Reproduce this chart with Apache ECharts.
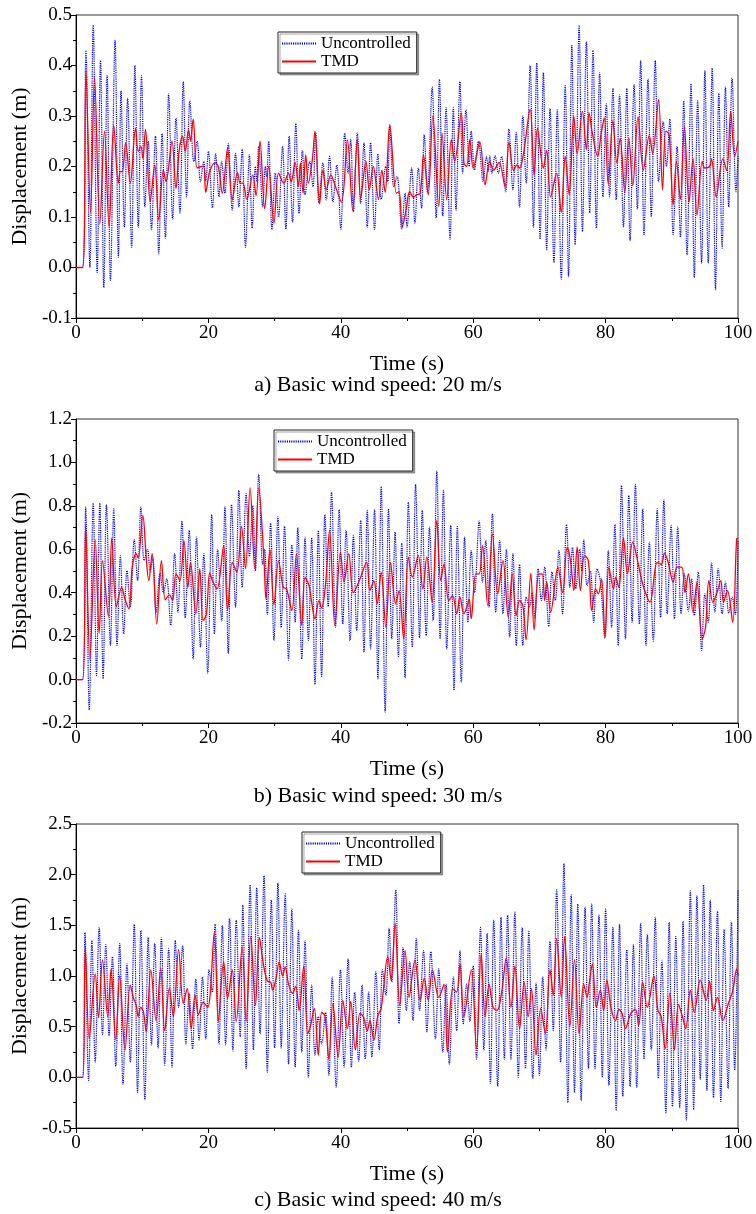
<!DOCTYPE html>
<html><head><meta charset="utf-8">
<script src="https://cdn.jsdelivr.net/npm/echarts@6/dist/echarts.min.js"></script>
<style>html,body{margin:0;padding:0;background:#fff}#c{width:756px;height:1214px}</style>
</head><body><div id="c"></div>
<script>
// ---------- Panel a (20 m/s) ----------
const aUncT=[0,1.0,1.5,2.1,2.6,3.2,3.7,4.2,4.7,5.2,5.9,6.4,6.8,7.3,7.8,8.4,8.9,9.4,9.9,10.4,10.9,11.4,12.0,12.5,13.0,13.5,14.0,14.6,15.1,15.7,16.2,16.7,17.2,17.8,18.3,18.8,19.3,19.6,20.0,20.6,21.1,21.6,22.0,22.5,23.0,23.6,24.1,24.6,25.1,25.6,26.2,26.6,27.1,27.3,27.6,28.2,28.6,28.8,29.1,29.6,30.1,30.6,31.2,31.7,32.2,32.7,33.2,33.7,34.2,34.6,35.3,35.8,36.2,36.7,37.3,37.8,38.3,38.8,39.4,40.0,40.6,41.1,41.5,41.9,42.5,43.0,43.5,44.0,44.5,45.1,45.6,46.1,46.8,47.1,47.4,48.0,48.5,49.2,49.7,50.0,50.7,51.2,51.7,52.2,52.6,53.1,53.8,54.4,54.9,55.4,55.9,56.5,57.0,57.4,58.0,58.4,58.9,59.4,59.7,60.2,60.8,61.5,62.0,62.3,62.5,62.8,63.3,63.8,64.3,64.9,65.4,66.0,66.5,67.0,67.5,68.0,68.6,69.1,69.6,70.1,70.6,71.1,71.6,72.2,72.7,73.3,73.9,74.4,74.9,75.4,76.0,76.5,77.1,77.6,78.1,78.6,79.1,79.6,80.1,80.6,81.1,81.6,82.1,82.7,83.2,83.7,84.3,84.8,85.3,85.8,86.4,86.9,87.5,88.0,88.7,89.2,89.7,90.2,90.8,91.3,91.8,92.3,92.9,93.4,93.9,94.5,95.0,95.5,96.1,96.6,97.1,97.6,98.1,98.6,99.1,99.7,100];
const aUncV=[0,0,0.43,0.00,0.48,-0.01,0.41,-0.04,0.38,-0.025,0.45,0.02,0.35,0.08,0.335,0.04,0.40,0.08,0.38,0.12,0.25,0.075,0.26,0.027,0.265,0.058,0.344,0.096,0.296,0.108,0.368,0.14,0.33,0.21,0.25,0.17,0.21,0.17,0.23,0.118,0.225,0.14,0.21,0.147,0.245,0.114,0.226,0.12,0.234,0.04,0.223,0.078,0.2,0.17,0.24,0.12,0.2,0.18,0.25,0.075,0.187,0.10,0.24,0.076,0.26,0.09,0.285,0.107,0.232,0.144,0.21,0.16,0.266,0.127,0.207,0.134,0.22,0.13,0.203,0.076,0.266,0.187,0.254,0.11,0.266,0.127,0.247,0.08,0.247,0.075,0.225,0.135,0.2,0.17,0.28,0.16,0.18,0.076,0.147,0.08,0.197,0.088,0.197,0.117,0.263,0.148,0.357,0.098,0.373,0.102,0.317,0.056,0.317,0.113,0.368,0.187,0.312,0.2,0.27,0.193,0.25,0.17,0.22,0.19,0.221,0.187,0.221,0.187,0.22,0.15,0.274,0.154,0.267,0.12,0.3,0.167,0.40,0.08,0.405,0.056,0.386,0.035,0.315,0.009,0.312,-0.023,0.36,-0.018,0.44,0.045,0.48,0.071,0.447,0.108,0.43,0.078,0.386,0.14,0.324,0.14,0.355,0.134,0.342,0.08,0.355,0.053,0.362,0.116,0.41,0.065,0.373,0.10,0.41,0.17,0.289,0.2,0.294,0.065,0.24,0.06,0.33,0.025,0.364,-0.02,0.33,0.009,0.39,0.009,0.395,-0.044,0.345,0.038,0.357,0.12,0.375,0.15,0.22];
const aTmdT=[0,1.0,1.5,2.2,2.8,3.6,4.3,5.0,5.7,6.4,6.7,7.0,7.5,8.2,9.0,9.4,9.8,10.1,10.5,11.2,11.9,12.5,13.2,13.6,14.5,15.1,15.6,16.1,16.5,17.0,17.3,17.7,18.3,19.0,19.3,19.6,20.2,21.0,21.5,22.1,22.9,23.6,24.4,24.8,25.2,25.8,26.7,27.2,27.8,28.5,29.1,29.9,30.6,31.4,32.1,32.5,33.1,33.6,33.9,34.3,34.7,35.1,35.7,36.1,36.8,37.3,37.8,38.5,39.1,40.1,41.0,41.8,42.5,43.0,43.8,44.3,44.9,45.7,46.2,46.7,47.4,48.4,48.8,49.3,49.9,50.4,51.0,51.4,52.0,52.5,53.2,53.9,54.8,55.3,56.0,56.7,57.2,58.2,58.6,59.0,59.5,60.0,61.0,61.8,62.5,63.1,63.9,64.8,65.4,66.1,66.6,67.0,67.6,68.6,69.2,69.7,70.6,71.1,71.7,72.6,73.3,73.9,74.5,75.2,75.7,76.5,77.1,77.5,78.0,78.8,79.3,79.8,80.4,81.1,81.7,82.2,82.9,83.5,84.1,84.9,85.7,86.6,87.1,88.0,88.6,89.1,89.6,90.2,90.7,91.3,91.9,92.6,93.2,93.8,94.6,95.0,95.7,96.0,96.7,97.7,98.3,98.9,99.5,100];
const aTmdV=[0,0,0.39,0.108,0.377,0.086,0.27,0.08,0.282,0.167,0.19,0.19,0.247,0.167,0.276,0.23,0.24,0.216,0.274,0.13,0.203,0.094,0.193,0.17,0.25,0.157,0.233,0.26,0.23,0.273,0.25,0.294,0.197,0.2,0.2,0.149,0.19,0.207,0.2,0.147,0.236,0.134,0.188,0.167,0.167,0.135,0.183,0.142,0.25,0.116,0.2,0.088,0.187,0.167,0.187,0.17,0.208,0.16,0.207,0.147,0.223,0.167,0.213,0.27,0.126,0.193,0.154,0.183,0.164,0.129,0.253,0.113,0.253,0.137,0.21,0.154,0.2,0.135,0.193,0.149,0.283,0.147,0.15,0.081,0.117,0.15,0.139,0.144,0.147,0.223,0.144,0.3,0.121,0.266,0.134,0.253,0.21,0.306,0.207,0.2,0.253,0.197,0.248,0.164,0.21,0.193,0.208,0.16,0.248,0.192,0.203,0.197,0.226,0.313,0.183,0.276,0.197,0.232,0.14,0.187,0.109,0.22,0.144,0.3,0.226,0.309,0.233,0.306,0.266,0.22,0.263,0.296,0.164,0.291,0.207,0.256,0.149,0.256,0.162,0.298,0.193,0.261,0.226,0.333,0.154,0.27,0.263,0.124,0.21,0.135,0.279,0.129,0.216,0.104,0.21,0.197,0.2,0.215,0.14,0.215,0.192,0.309,0.22,0.25];

// ---------- Panel b (30 m/s) ----------
const bUncT=[0,1.0,1.46,2.0,2.6,3.1,3.6,4.1,4.6,5.2,5.7,6.2,6.7,7.2,7.7,8.2,8.8,9.3,9.8,10.3,10.8,11.2,11.6,12.1,12.7,13.2,13.7,14.3,14.9,15.4,16.0,16.5,17.1,17.7,18.2,18.8,19.3,19.9,20.5,20.9,21.4,22.0,22.5,23.0,23.5,24.1,24.6,25.1,25.7,26.2,26.7,27.1,27.6,28.2,28.5,28.9,29.4,29.9,30.5,31.0,31.5,32.1,32.6,33.1,33.5,34.1,34.6,35.1,35.6,36.1,36.6,37.1,37.6,38.1,38.6,39.2,39.75,40.3,40.8,41.4,41.9,42.4,43.0,43.5,44.0,44.5,45.1,45.6,46.1,46.7,47.2,47.7,48.2,48.7,49.2,49.7,50.2,50.8,51.3,51.9,52.3,52.9,53.4,53.95,54.5,55.0,55.5,56.0,56.6,57.1,57.6,58.2,58.7,59.2,59.7,60.2,60.9,61.4,61.9,62.4,62.9,63.4,64.0,64.5,65.0,65.5,66.0,66.5,67.0,67.5,68.0,68.5,68.9,69.3,69.8,70.3,70.8,71.4,71.9,72.4,72.95,73.5,74.1,74.6,75.0,75.5,76.1,76.4,76.7,77.2,77.7,78.2,78.7,79.2,79.9,80.4,80.9,81.4,81.9,82.4,83.0,83.5,84.0,84.5,85.1,85.6,86.1,86.6,87.2,87.8,88.3,88.8,89.3,89.9,90.4,90.9,91.4,91.9,92.5,93.0,93.4,94.0,94.5,95.0,95.5,96.0,96.5,97.0,97.6,98.1,98.6,99.1,99.6,100];
const bUncV=[0,0,0.794,-0.14,0.813,0.018,0.813,0.003,0.806,0.157,0.786,0.157,0.571,0.21,0.502,0.333,0.644,0.456,0.794,0.548,0.6,0.5,0.56,0.31,0.49,0.4,0.464,0.25,0.58,0.31,0.73,0.284,0.687,0.095,0.656,0.149,0.58,0.03,0.76,0.21,0.6,0.27,0.797,0.12,0.806,0.333,0.871,0.425,0.856,0.567,0.8,0.5,0.945,0.53,0.6,0.3,0.72,0.18,0.75,0.24,0.705,0.09,0.62,0.264,0.7,0.095,0.656,0.18,0.653,-0.023,0.687,0.014,0.76,0.336,0.863,0.24,0.782,0.256,0.687,0.18,0.664,0.226,0.733,0.126,0.779,0.141,0.782,0.003,0.889,-0.15,0.786,0.187,0.679,0.106,0.628,0.008,0.817,0.149,0.9,0.192,0.779,0.203,0.702,0.272,0.96,0.187,0.871,0.141,0.71,-0.05,0.705,-0.012,0.656,0.264,0.594,0.4,0.73,0.449,0.64,0.333,0.763,0.31,0.64,0.303,0.6,0.195,0.58,0.157,0.53,0.157,0.38,0.336,0.4,0.284,0.51,0.364,0.518,0.244,0.495,0.364,0.594,0.303,0.714,0.425,0.61,0.418,0.6,0.5,0.644,0.433,0.5,0.264,0.51,0.456,0.192,0.594,0.24,0.714,0.157,0.894,0.187,0.848,0.264,0.899,0.256,0.786,0.157,0.633,0.177,0.786,0.287,0.828,0.303,0.71,0.28,0.702,0.303,0.487,0.315,0.464,0.295,0.495,0.134,0.395,0.264,0.536,0.31,0.51,0.303,0.449,0.306,0.38,0.3,0.64];
const bTmdT=[0,1.0,1.46,2.1,2.9,3.5,4.0,4.9,5.4,6.1,6.9,7.4,8.0,8.5,9.1,9.4,10.1,10.6,11.0,11.5,12.2,12.9,13.5,14.1,14.6,15.1,15.7,16.3,16.9,17.3,18.1,18.7,19.2,19.7,20.2,20.7,21.3,22.3,22.9,23.6,24.3,25.0,25.6,26.3,27.0,27.6,28.4,28.7,29.3,29.9,30.6,31.3,31.8,32.6,33.3,34.1,34.6,35.2,35.6,36.1,36.7,37.1,37.7,38.3,39.1,39.95,40.5,41.2,41.9,42.8,43.9,44.4,45.0,45.5,46.1,46.8,47.5,48.3,48.8,49.5,50.2,50.8,51.7,52.4,53.0,53.8,54.5,55.1,55.6,56.3,56.9,57.5,58.0,58.6,59.0,59.4,59.7,60.4,60.9,61.4,62.2,62.9,63.7,64.5,65.3,65.9,66.5,67.0,67.5,68.0,68.7,69.2,69.9,70.4,70.8,71.1,71.7,72.8,73.5,74.2,74.7,75.2,75.7,76.2,76.8,77.4,77.9,78.5,78.9,79.4,79.9,80.5,81.2,81.5,82.0,82.7,83.3,84.1,84.6,85.3,85.9,86.7,87.8,88.4,88.9,89.5,90.2,90.8,91.5,92.0,92.5,93.2,93.8,94.6,95.1,95.6,96.2,96.8,97.4,97.8,98.4,99.2,99.8,100];
const bTmdV=[0,0,0.714,0.09,0.644,0.214,0.548,0.29,0.653,0.336,0.425,0.37,0.326,0.52,0.58,0.56,0.756,0.564,0.456,0.58,0.256,0.548,0.367,0.39,0.364,0.487,0.456,0.64,0.425,0.54,0.303,0.51,0.272,0.3,0.49,0.449,0.418,0.617,0.32,0.54,0.495,0.705,0.51,0.883,0.51,0.883,0.548,0.37,0.6,0.345,0.548,0.425,0.418,0.318,0.58,0.25,0.47,0.433,0.356,0.28,0.364,0.33,0.44,0.687,0.25,0.587,0.449,0.58,0.4,0.456,0.54,0.41,0.456,0.349,0.495,0.241,0.54,0.349,0.41,0.187,0.564,0.472,0.571,0.418,0.564,0.356,0.733,0.456,0.533,0.364,0.387,0.303,0.38,0.303,0.33,0.37,0.28,0.487,0.487,0.617,0.341,0.671,0.395,0.548,0.287,0.487,0.295,0.364,0.341,0.183,0.49,0.229,0.487,0.487,0.364,0.45,0.31,0.518,0.4,0.61,0.548,0.41,0.61,0.41,0.571,0.548,0.318,0.418,0.395,0.464,0.195,0.518,0.418,0.472,0.425,0.653,0.487,0.633,0.58,0.479,0.41,0.356,0.54,0.53,0.582,0.533,0.449,0.518,0.518,0.4,0.487,0.31,0.449,0.187,0.241,0.456,0.356,0.398,0.456,0.356,0.41,0.264,0.648,0.65];

// ---------- Panel c (40 m/s) ----------
const cUncT=[0,1.0,1.36,1.9,2.4,2.9,3.5,4.0,4.5,5.0,5.5,6.0,6.6,7.1,7.7,8.2,8.8,9.3,9.8,10.4,10.9,11.4,11.9,12.4,12.9,13.4,14.0,14.5,15.0,15.5,16.1,16.6,17.1,17.6,18.1,18.6,19.1,19.6,20.1,20.6,21.0,21.6,22.1,22.6,23.2,23.7,24.2,24.8,25.2,25.7,26.3,26.8,27.3,27.8,28.4,28.9,29.5,30.0,30.5,31.0,31.6,32.1,32.6,33.1,33.6,34.1,34.6,35.1,35.6,36.1,36.6,37.1,37.7,38.2,38.7,39.3,39.95,40.5,41.1,41.6,42.1,42.7,43.2,43.7,44.2,44.7,45.3,45.8,46.3,46.8,47.3,47.7,48.3,48.8,49.4,49.9,50.4,50.9,51.4,51.9,52.5,53.0,53.6,54.3,54.8,55.4,55.9,56.4,57.0,57.5,58.0,58.5,59.0,59.5,60.0,60.5,61.1,61.6,62.1,62.6,63.1,63.7,64.2,64.7,65.2,65.7,66.3,66.8,67.4,67.9,68.4,69.0,69.5,70.0,70.5,71.0,71.6,72.1,72.6,73.2,73.7,74.3,74.8,75.3,75.8,76.3,76.9,77.4,77.9,78.4,79.0,79.5,80.0,80.5,81.1,81.6,82.1,82.6,83.2,83.7,84.2,84.7,85.3,85.8,86.3,86.9,87.5,87.96,88.5,89.1,89.6,90.1,90.6,91.2,91.7,92.2,92.8,93.3,93.8,94.3,94.8,95.3,95.8,96.3,96.9,97.4,97.9,98.5,99.0,99.5,100];
const cUncV=[0,0,1.43,-0.03,1.35,0.15,1.48,0.42,1.31,0.41,1.19,0.11,1.32,-0.07,1.12,0.15,1.51,-0.15,1.45,-0.22,1.38,0.32,1.32,0.29,1.38,0.12,1.27,0.10,1.35,0.69,1.30,0.33,0.83,0.28,0.97,0.37,0.99,0.38,1.06,0.84,1.51,0.33,1.50,0.32,1.57,0.26,1.55,0.40,1.70,0.085,1.90,0.27,1.87,0.43,1.99,0.05,1.75,0.29,1.92,0.29,1.81,0.13,1.66,0.10,1.45,0.25,1.35,0.0,0.91,0.22,0.6,0.33,0.64,0.02,0.99,-0.10,1.06,0.10,1.17,0.10,0.84,0.16,0.91,0.18,0.84,0.20,1.04,0.27,1.06,0.81,1.47,0.94,1.85,0.53,1.28,0.66,1.14,0.56,1.37,0.66,1.25,0.45,1.24,0.38,1.07,0.25,0.92,0.13,0.99,0.46,1.25,0.53,0.92,0.55,1.1,0.18,1.48,0.27,1.42,-0.06,1.55,-0.09,1.58,0.18,1.60,0.18,1.63,0.0,1.48,0.085,1.44,-0.01,0.93,0.02,0.99,0.27,1.34,0.46,1.85,0.15,2.11,-0.25,1.80,-0.15,1.71,-0.23,1.68,0.085,1.71,0.085,1.60,0.0,1.66,-0.08,1.48,-0.33,1.51,-0.19,1.26,-0.09,1.31,-0.10,1.52,0.18,1.41,0.27,1.58,-0.01,1.15,-0.35,1.53,-0.29,1.39,-0.30,1.54,-0.42,1.84,-0.32,1.79,-0.02,1.90,-0.13,1.75,-0.20,1.64,-0.24,1.46,-0.11,1.53,0.07,1.85];
const cTmdT=[0,1.0,1.4,2.0,2.9,3.4,4.0,4.8,5.3,6.0,6.6,7.4,8.2,8.7,9.1,9.4,9.8,10.2,10.6,11.3,12.1,12.8,13.4,14.1,14.7,15.5,16.2,16.8,17.4,18.0,18.5,19.2,19.9,20.9,21.5,22.3,22.9,23.6,24.2,25.1,25.7,26.4,27.1,27.7,28.3,28.9,29.4,29.7,30.2,30.7,31.2,31.6,32.1,32.7,33.2,33.7,34.4,35.0,35.4,36.0,36.6,37.1,37.6,38.2,38.8,39.6,40.3,41.0,41.5,42.2,42.9,43.4,44.0,44.4,45.0,45.6,46.1,47.1,47.6,48.2,48.9,49.7,50.3,51.2,52.0,52.6,53.2,53.85,54.8,55.6,56.1,56.9,57.5,58.0,58.6,59.7,60.5,61.2,61.8,62.4,63.0,63.6,64.3,65.0,65.7,66.3,67.0,67.7,68.3,68.8,69.5,70.2,70.9,71.6,72.1,72.6,73.3,73.8,74.6,75.3,76.0,76.7,77.2,77.5,78.0,78.6,79.2,79.7,80.2,80.8,81.5,82.0,82.5,83.0,83.8,84.5,85.0,85.6,86.3,87.3,87.9,88.4,89.0,89.7,90.4,91.0,91.6,92.1,92.8,93.4,94.3,95.2,95.7,96.3,96.9,97.7,98.6,99.2,99.8,100];
const cTmdV=[0,0,1.29,0.38,1.02,0.59,1.16,0.6,1.07,0.37,1.0,0.27,0.91,0.78,0.71,0.6,0.69,0.64,0.45,1.06,0.56,1.08,0.46,0.88,0.6,1.26,0.73,0.875,0.48,0.81,0.62,0.74,0.69,1.43,0.55,1.14,0.78,1.06,0.55,1.29,0.55,1.39,0.71,1.38,1.12,0.95,0.94,0.86,0.97,1.14,1.0,1.09,0.92,0.83,0.9,0.66,1.1,0.43,0.5,0.68,0.22,0.64,0.61,0.18,0.73,0.2,0.76,0.48,0.75,0.27,0.63,0.6,0.46,0.56,0.37,0.61,0.68,1.19,0.96,1.52,0.71,1.25,0.79,1.16,0.76,0.98,0.76,1.06,0.79,0.92,0.25,0.875,0.84,1.12,0.6,1.06,0.28,1.22,0.6,0.92,0.69,0.66,0.84,1.18,0.69,1.1,0.48,0.94,0.6,0.875,0.22,0.68,0.43,1.06,0.81,1.37,0.79,1.39,0.5,1.16,0.43,0.92,0.79,0.91,1.12,0.69,0.86,0.66,0.96,0.69,0.56,0.67,0.63,0.48,0.63,0.67,0.51,0.94,0.69,1.0,0.66,0.6,0.28,0.83,0.27,0.72,0.6,0.48,0.86,0.64,0.96,0.76,0.95,0.66,0.79,0.56,0.74,0.85,1.07,1.0];

// axis ticks
const xTicks=[0,20,40,60,80,100];
const aYTicks=[-0.1,0.0,0.1,0.2,0.3,0.4,0.5];
const bYTicks=[-0.2,0.0,0.2,0.4,0.6,0.8,1.0,1.2];
const cYTicks=[-0.5,0.0,0.5,1.0,1.5,2.0,2.5];
const seriesNames=['Uncontrolled','TMD'];
const captions=['a) Basic wind speed: 20 m/s','b) Basic wind speed: 30 m/s','c) Basic wind speed: 40 m/s'];

const FONT='"Liberation Serif","Times New Roman",serif';
const zip=(t,v)=>t.map((x,i)=>[x,v[i]]);
const panels=[
  {unc:zip(aUncT,aUncV),tmd:zip(aTmdT,aTmdV),ticks:aYTicks,top:15,h:303,leg:[278,32],cap:386},
  {unc:zip(bUncT,bUncV),tmd:zip(bTmdT,bTmdV),ticks:bYTicks,top:419,h:304,leg:[274,430],cap:797},
  {unc:zip(cUncT,cUncV),tmd:zip(cTmdT,cTmdV),ticks:cYTicks,top:824,h:304,leg:[302,832],cap:1201}
];
const grid=[],xAxis=[],yAxis=[],series=[],legend=[],graphic=[];
panels.forEach((p,i)=>{
  grid.push({left:76,width:662,top:p.top,height:p.h,show:true,borderColor:'#333',borderWidth:1,backgroundColor:'transparent'});
  xAxis.push({gridIndex:i,type:'value',min:xTicks[0],max:xTicks[xTicks.length-1],interval:xTicks[1]-xTicks[0],
    name:'Time (s)',nameLocation:'middle',nameGap:35,nameTextStyle:{fontFamily:FONT,fontSize:22,color:'#000'},
    axisLine:{onZero:false,lineStyle:{color:'#000',width:1}},axisTick:{length:5,lineStyle:{color:'#000'}},
    minorTick:{show:true,splitNumber:2,length:3,lineStyle:{color:'#000'}},splitLine:{show:false},
    axisLabel:{fontFamily:FONT,fontSize:19,color:'#000',margin:6}});
  const t=p.ticks;
  yAxis.push({gridIndex:i,type:'value',min:t[0],max:t[t.length-1],interval:+(t[1]-t[0]).toFixed(2),
    name:'Displacement (m)',nameLocation:'middle',nameGap:44,nameTextStyle:{fontFamily:FONT,fontSize:22,color:'#000'},
    axisLine:{onZero:false,lineStyle:{color:'#000',width:1}},axisTick:{length:5,lineStyle:{color:'#000'}},
    minorTick:{show:true,splitNumber:2,length:3,lineStyle:{color:'#000'}},splitLine:{show:false},
    axisLabel:{fontFamily:FONT,fontSize:19,color:'#000',margin:4,formatter:v=>v.toFixed(1)}});
  series.push({name:seriesNames[0],type:'line',xAxisIndex:i,yAxisIndex:i,data:p.unc,showSymbol:false,symbol:'none',
    smooth:0.35,lineStyle:{color:'#0000ff',width:1.2,type:[1.2,1]},itemStyle:{color:'#0000ff'},z:2});
  series.push({name:seriesNames[1],type:'line',xAxisIndex:i,yAxisIndex:i,data:p.tmd,showSymbol:false,symbol:'none',
    smooth:0.35,lineStyle:{color:'#ff0000',width:1.3},itemStyle:{color:'#ff0000'},z:3});
  legend.push({left:p.leg[0],top:p.leg[1],orient:'vertical',data:seriesNames,itemWidth:34,itemHeight:10,itemGap:1,
    padding:[3,6,3,3],borderColor:'#222',borderWidth:1,backgroundColor:'#fff',
    shadowColor:'rgba(0,0,0,0.35)',shadowOffsetX:2,shadowOffsetY:2,shadowBlur:0,
    itemStyle:{opacity:0},
    textStyle:{fontFamily:FONT,fontSize:17,color:'#000',padding:[0,0,0,0]},selectedMode:false});
  graphic.push({type:'text',left:'center',top:p.cap-12,style:{text:captions[i],font:'22px '+FONT,fill:'#000'}});
});
const chart=echarts.init(document.getElementById('c'),null,{renderer:'canvas'});
chart.setOption({animation:false,backgroundColor:'#fff',grid,xAxis,yAxis,series,legend,graphic});
</script></body></html>
